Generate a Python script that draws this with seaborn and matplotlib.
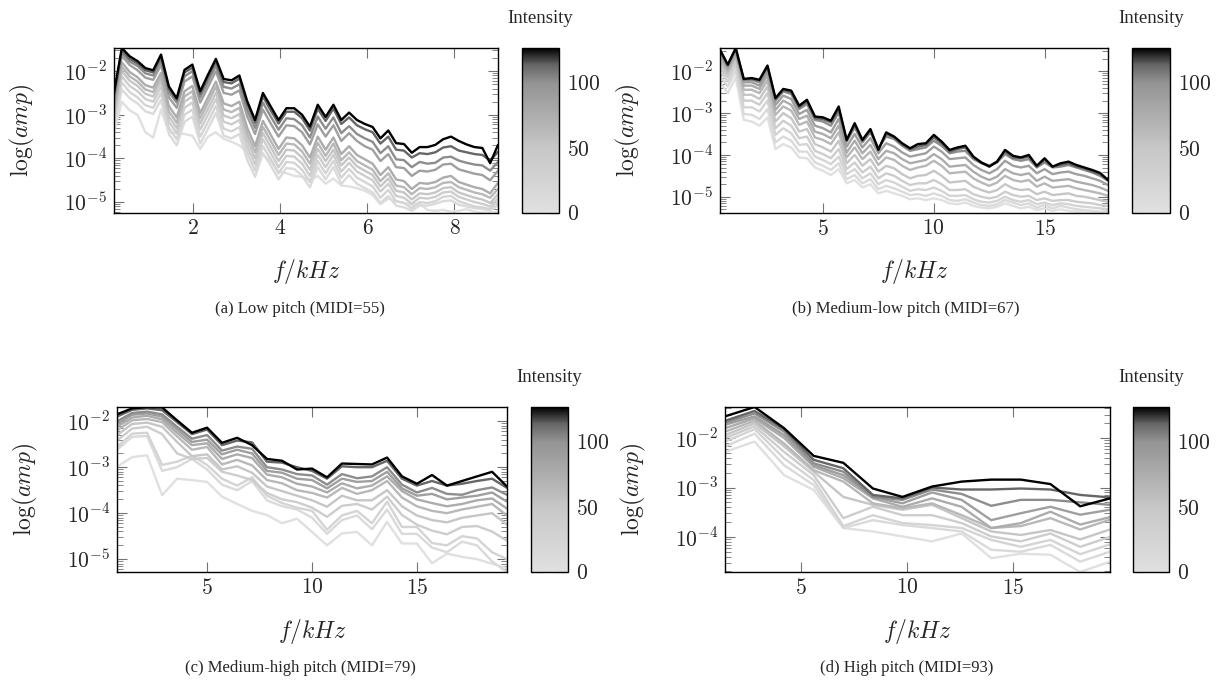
import numpy as np
import pandas as pd
import matplotlib
matplotlib.use("Agg")
import matplotlib.pyplot as plt
import seaborn as sns
from matplotlib.colors import LinearSegmentedColormap, Normalize
from matplotlib.cm import ScalarMappable
from matplotlib.ticker import FixedLocator, LogLocator, FuncFormatter, NullFormatter

# ---------------- data (log10 of amplitude) ----------------
intensities = [127, 114, 102, 89, 76, 64, 51, 38, 25, 13, 0]

freq_a = [0.18, 0.36, 0.54, 0.72, 0.90, 1.08, 1.26, 1.44, 1.62, 1.80, 1.98, 2.16, 2.34, 2.52, 2.70,
          2.88, 3.06, 3.24, 3.42, 3.60, 3.78, 3.96, 4.14, 4.32, 4.50, 4.68, 4.86, 5.04, 5.22, 5.40,
          5.58, 5.76, 5.94, 6.12, 6.30, 6.48, 6.66, 6.84, 7.02, 7.20, 7.38, 7.56, 7.74, 7.92, 8.10,
          8.28, 8.46, 8.64, 8.82, 9.00]
a_127 = [-2.49, -1.47, -1.66, -1.77, -1.93, -1.98, -1.62, -2.35, -2.62, -1.97,
         -1.85, -2.46, -2.08, -1.72, -2.18, -2.21, -2.10, -2.69, -3.12, -2.50,
         -2.81, -3.12, -2.85, -2.85, -3.00, -3.27, -2.77, -3.05, -2.77, -3.12,
         -2.95, -3.12, -3.21, -3.28, -3.54, -3.36, -3.65, -3.67, -3.87, -3.74,
         -3.74, -3.69, -3.56, -3.50, -3.60, -3.68, -3.74, -3.76, -4.11, -3.69]
a_114 = [-2.55, -1.52, -1.72, -1.82, -1.98, -2.03, -1.68, -2.40, -2.66, -2.03,
         -1.92, -2.52, -2.14, -1.78, -2.25, -2.28, -2.17, -2.76, -3.18, -2.58,
         -2.90, -3.20, -2.93, -2.93, -3.08, -3.36, -2.86, -3.14, -2.86, -3.21,
         -3.06, -3.24, -3.33, -3.40, -3.66, -3.50, -3.80, -3.82, -3.98, -3.88,
         -3.90, -3.86, -3.75, -3.72, -3.82, -3.86, -3.90, -3.92, -4.05, -3.85]
a_102 = [-2.62, -1.58, -1.78, -1.88, -2.05, -2.10, -1.76, -2.48, -2.72, -2.12,
         -2.00, -2.60, -2.24, -1.88, -2.36, -2.40, -2.30, -2.90, -3.30, -2.72,
         -3.04, -3.34, -3.08, -3.10, -3.24, -3.52, -3.04, -3.32, -3.06, -3.42,
         -3.26, -3.44, -3.54, -3.62, -3.88, -3.72, -4.02, -4.04, -4.20, -4.08,
         -4.12, -4.10, -3.98, -3.96, -4.05, -4.10, -4.14, -4.16, -4.28, -4.08]
a_89 = [-2.70, -1.65, -1.86, -1.98, -2.15, -2.20, -1.86, -2.60, -2.84, -2.24,
        -2.12, -2.72, -2.36, -2.00, -2.50, -2.54, -2.44, -3.04, -3.44, -2.88,
        -3.20, -3.50, -3.24, -3.26, -3.40, -3.68, -3.22, -3.50, -3.24, -3.60,
        -3.42, -3.60, -3.72, -3.80, -4.06, -3.90, -4.20, -4.22, -4.40, -4.28,
        -4.30, -4.26, -4.14, -4.12, -4.25, -4.30, -4.35, -4.38, -4.50, -4.28]
a_76 = [-2.82, -1.80, -2.02, -2.14, -2.32, -2.38, -2.04, -2.80, -3.06, -2.46,
        -2.34, -2.96, -2.60, -2.24, -2.74, -2.80, -2.70, -3.30, -3.72, -3.14,
        -3.46, -3.78, -3.52, -3.54, -3.70, -3.98, -3.50, -3.80, -3.52, -3.90,
        -3.72, -3.92, -4.02, -4.12, -4.38, -4.20, -4.48, -4.52, -4.70, -4.56,
        -4.58, -4.54, -4.44, -4.40, -4.54, -4.60, -4.66, -4.70, -4.80, -4.56]
a_64 = [-2.90, -1.90, -2.12, -2.24, -2.42, -2.48, -2.14, -2.92, -3.18, -2.58,
        -2.46, -3.08, -2.72, -2.36, -2.88, -2.94, -2.84, -3.44, -3.86, -3.28,
        -3.60, -3.92, -3.66, -3.68, -3.84, -4.12, -3.64, -3.94, -3.66, -4.04,
        -3.86, -4.06, -4.16, -4.26, -4.52, -4.34, -4.62, -4.66, -4.82, -4.68,
        -4.70, -4.66, -4.56, -4.54, -4.66, -4.72, -4.78, -4.82, -4.90, -4.70]
a_51 = [-2.98, -2.00, -2.22, -2.34, -2.52, -2.58, -2.24, -3.04, -3.30, -2.70,
        -2.58, -3.20, -2.86, -2.50, -3.02, -3.08, -2.98, -3.58, -4.00, -3.42,
        -3.74, -4.06, -3.80, -3.82, -3.98, -4.26, -3.78, -4.06, -3.80, -4.16,
        -3.98, -4.18, -4.28, -4.38, -4.64, -4.46, -4.74, -4.78, -4.94, -4.80,
        -4.82, -4.78, -4.68, -4.66, -4.78, -4.84, -4.90, -4.94, -5.02, -4.82]
a_38 = [-3.06, -2.12, -2.34, -2.46, -2.64, -2.70, -2.36, -3.16, -3.42, -2.84,
        -2.72, -3.34, -3.00, -2.64, -3.16, -3.22, -3.12, -3.72, -4.14, -3.56,
        -3.88, -4.20, -3.94, -3.96, -4.12, -4.40, -3.92, -4.20, -3.92, -4.30,
        -4.10, -4.30, -4.40, -4.50, -4.76, -4.58, -4.86, -4.90, -5.04, -4.90,
        -4.92, -4.88, -4.78, -4.76, -4.88, -4.94, -5.00, -5.04, -5.10, -4.92]
a_25 = [-3.16, -2.26, -2.48, -2.60, -2.78, -2.84, -2.50, -3.30, -3.56, -3.00,
        -2.88, -3.50, -3.16, -2.80, -3.32, -3.38, -3.28, -3.88, -4.28, -3.72,
        -4.02, -4.34, -4.08, -4.10, -4.26, -4.54, -4.06, -4.34, -4.06, -4.44,
        -4.24, -4.44, -4.54, -4.64, -4.90, -4.72, -4.98, -5.02, -5.14, -5.00,
        -5.02, -4.98, -4.88, -4.86, -4.98, -5.04, -5.10, -5.12, -5.16, -5.00]
a_13 = [-3.26, -2.42, -2.62, -2.74, -2.92, -2.98, -2.66, -3.44, -3.70, -3.16,
        -3.04, -3.66, -3.32, -2.96, -3.48, -3.54, -3.44, -4.04, -4.42, -3.88,
        -4.16, -4.48, -4.22, -4.24, -4.40, -4.66, -4.20, -4.48, -4.20, -4.58,
        -4.38, -4.58, -4.68, -4.78, -5.02, -4.86, -5.08, -5.12, -5.20, -5.08,
        -5.08, -5.04, -4.98, -4.96, -5.06, -5.10, -5.14, -5.16, -5.20, -5.08]
a_0 = [-3.40, -2.70, -2.90, -3.00, -3.40, -3.52, -2.88, -3.40, -3.42, -3.44,
       -3.48, -3.78, -3.50, -3.40, -3.55, -3.62, -3.70, -3.86, -3.98, -3.92,
       -4.06, -4.30, -4.34, -4.40, -4.42, -4.50, -4.40, -4.58, -4.46, -4.62,
       -4.64, -4.68, -4.74, -4.84, -5.05, -4.92, -4.98, -5.02, -5.06, -5.04,
       -5.18, -5.20, -5.18, -5.22, -5.20, -5.16, -5.22, -5.24, -5.25, -5.22]

freq_b = [0.36, 0.71, 1.07, 1.43, 1.79, 2.14, 2.50, 2.86, 3.21, 3.57, 3.93, 4.28, 4.64, 5.00, 5.36,
          5.71, 6.07, 6.43, 6.78, 7.14, 7.50, 7.85, 8.21, 8.57, 8.93, 9.28, 9.64, 10.00, 10.35, 10.71,
          11.07, 11.42, 11.78, 12.14, 12.50, 12.85, 13.21, 13.57, 13.92, 14.28, 14.64, 14.99, 15.35,
          15.71, 16.07, 16.42, 16.78, 17.14, 17.49, 17.85]
b_127 = [-1.48, -1.84, -1.44, -2.18, -2.16, -2.20, -1.86, -2.64, -2.42, -2.46,
         -2.82, -2.68, -3.08, -3.10, -3.18, -2.84, -3.64, -3.24, -3.64, -3.38,
         -3.88, -3.46, -3.56, -3.72, -3.84, -3.74, -3.72, -3.52, -3.68, -3.88,
         -3.82, -3.78, -4.04, -4.18, -4.28, -4.16, -3.88, -4.02, -4.06, -4.00,
         -4.26, -4.08, -4.28, -4.20, -4.16, -4.24, -4.30, -4.36, -4.43, -4.60]
b_114 = [-1.50, -1.85, -1.46, -2.19, -2.18, -2.22, -1.88, -2.66, -2.45, -2.50,
         -2.86, -2.72, -3.12, -3.14, -3.22, -2.90, -3.66, -3.28, -3.66, -3.42,
         -3.86, -3.50, -3.58, -3.75, -3.86, -3.80, -3.76, -3.58, -3.72, -3.92,
         -3.86, -3.82, -4.06, -4.18, -4.26, -4.16, -3.92, -4.06, -4.08, -4.04,
         -4.28, -4.12, -4.28, -4.24, -4.20, -4.28, -4.32, -4.40, -4.46, -4.60]
b_102 = [-1.52, -1.86, -1.48, -2.20, -2.20, -2.26, -1.92, -2.70, -2.48, -2.54,
         -2.90, -2.78, -3.16, -3.20, -3.30, -2.98, -3.68, -3.34, -3.70, -3.46,
         -3.84, -3.56, -3.62, -3.78, -3.90, -3.86, -3.82, -3.66, -3.78, -3.96,
         -3.92, -3.90, -4.10, -4.20, -4.26, -4.18, -3.98, -4.10, -4.14, -4.10,
         -4.30, -4.18, -4.30, -4.28, -4.24, -4.30, -4.36, -4.42, -4.50, -4.62]
b_89 = [-1.58, -1.90, -1.52, -2.26, -2.26, -2.34, -2.00, -2.80, -2.58, -2.66,
        -3.02, -2.92, -3.30, -3.36, -3.46, -3.14, -3.80, -3.50, -3.82, -3.60,
        -3.96, -3.72, -3.80, -3.94, -4.04, -4.00, -3.96, -3.80, -3.92, -4.10,
        -4.08, -4.06, -4.24, -4.36, -4.44, -4.34, -4.14, -4.26, -4.30, -4.26,
        -4.44, -4.34, -4.46, -4.42, -4.40, -4.46, -4.50, -4.56, -4.62, -4.72]
b_76 = [-1.64, -1.95, -1.57, -2.34, -2.34, -2.42, -2.10, -2.92, -2.70, -2.80,
        -3.14, -3.06, -3.44, -3.50, -3.60, -3.30, -3.94, -3.66, -3.96, -3.76,
        -4.10, -3.90, -3.96, -4.10, -4.20, -4.16, -4.12, -3.98, -4.10, -4.28,
        -4.26, -4.24, -4.40, -4.52, -4.60, -4.52, -4.34, -4.44, -4.48, -4.44,
        -4.62, -4.52, -4.62, -4.60, -4.58, -4.64, -4.68, -4.72, -4.78, -4.86]
b_64 = [-1.72, -2.00, -1.62, -2.44, -2.44, -2.52, -2.22, -3.04, -2.84, -2.94,
        -3.28, -3.20, -3.58, -3.64, -3.74, -3.46, -4.06, -3.82, -4.10, -3.92,
        -4.24, -4.06, -4.12, -4.26, -4.36, -4.30, -4.26, -4.14, -4.26, -4.44,
        -4.42, -4.40, -4.56, -4.66, -4.74, -4.66, -4.50, -4.60, -4.64, -4.60,
        -4.76, -4.68, -4.78, -4.76, -4.74, -4.80, -4.84, -4.88, -4.92, -4.98]
b_51 = [-1.80, -2.06, -1.68, -2.56, -2.56, -2.66, -2.36, -3.20, -3.00, -3.12,
        -3.44, -3.38, -3.74, -3.82, -3.92, -3.66, -4.20, -4.00, -4.26, -4.10,
        -4.40, -4.26, -4.32, -4.46, -4.56, -4.50, -4.48, -4.38, -4.50, -4.66,
        -4.64, -4.62, -4.76, -4.84, -4.90, -4.84, -4.70, -4.80, -4.84, -4.82,
        -4.94, -4.88, -4.96, -4.94, -4.92, -4.98, -5.00, -5.04, -5.08, -5.12]
b_38 = [-1.88, -2.14, -1.76, -2.70, -2.70, -2.80, -2.52, -3.36, -3.18, -3.30,
        -3.60, -3.56, -3.90, -3.98, -4.08, -3.86, -4.34, -4.18, -4.42, -4.28,
        -4.56, -4.44, -4.50, -4.62, -4.72, -4.68, -4.68, -4.60, -4.70, -4.84,
        -4.84, -4.82, -4.94, -5.00, -5.04, -5.00, -4.88, -4.96, -5.00, -4.98,
        -5.08, -5.04, -5.10, -5.08, -5.08, -5.12, -5.14, -5.16, -5.20, -5.22]
b_25 = [-1.98, -2.24, -1.86, -2.86, -2.86, -2.96, -2.70, -3.52, -3.36, -3.48,
        -3.76, -3.74, -4.04, -4.12, -4.22, -4.04, -4.46, -4.34, -4.56, -4.44,
        -4.70, -4.60, -4.66, -4.76, -4.86, -4.82, -4.84, -4.78, -4.86, -4.98,
        -4.98, -4.96, -5.06, -5.12, -5.14, -5.10, -5.00, -5.08, -5.12, -5.08,
        -5.18, -5.14, -5.20, -5.16, -5.18, -5.22, -5.24, -5.26, -5.28, -5.30]
b_13 = [-2.10, -2.36, -1.98, -3.02, -3.04, -3.14, -2.90, -3.70, -3.56, -3.66,
        -3.92, -3.92, -4.18, -4.26, -4.36, -4.20, -4.58, -4.48, -4.68, -4.58,
        -4.82, -4.74, -4.80, -4.88, -4.96, -4.94, -4.98, -4.92, -4.98, -5.08,
        -5.10, -5.06, -5.14, -5.20, -5.22, -5.18, -5.08, -5.14, -5.20, -5.16,
        -5.26, -5.20, -5.28, -5.22, -5.26, -5.30, -5.32, -5.34, -5.36, -5.34]
b_0 = [-2.26, -2.52, -2.14, -3.16, -3.20, -3.30, -3.10, -3.86, -3.74, -3.82,
       -4.06, -4.08, -4.30, -4.38, -4.48, -4.34, -4.68, -4.60, -4.78, -4.70,
       -4.92, -4.86, -4.92, -4.98, -5.06, -5.04, -5.08, -5.04, -5.08, -5.16,
       -5.18, -5.14, -5.22, -5.26, -5.28, -5.24, -5.16, -5.22, -5.28, -5.24,
       -5.32, -5.28, -5.34, -5.30, -5.34, -5.36, -5.38, -5.39, -5.38, -5.36]

freq_c = [0.71, 1.43, 2.14, 2.86, 3.57, 4.28, 5.00, 5.71, 6.43, 7.14, 7.85, 8.57, 9.28, 10.00,
          10.71, 11.42, 12.14, 12.85, 13.57, 14.28, 14.99, 15.71, 16.42, 17.14, 17.85, 18.57, 19.28]
c_127 = [-1.85, -1.72, -1.69, -1.70, -1.98, -2.25, -2.14, -2.47, -2.36, -2.52, -2.82, -2.86, -3.05, -3.03,
         -3.22, -2.92, -2.93, -2.94, -2.79, -3.20, -3.36, -3.17, -3.40, -3.30, -3.20, -3.10, -3.42]
c_114 = [-1.90, -1.75, -1.72, -1.76, -2.02, -2.28, -2.18, -2.52, -2.42, -2.46, -2.88, -2.90, -3.00, -3.08,
         -3.25, -2.98, -3.00, -3.00, -2.86, -3.25, -3.40, -3.30, -3.40, -3.36, -3.30, -3.25, -3.45]
c_102 = [-2.00, -1.82, -1.79, -1.85, -2.12, -2.38, -2.30, -2.64, -2.55, -2.60, -3.00, -3.05, -3.15, -3.18,
         -3.38, -3.15, -3.24, -3.20, -3.00, -3.38, -3.55, -3.45, -3.58, -3.60, -3.50, -3.44, -3.60]
c_89 = [-2.06, -1.86, -1.83, -1.90, -2.18, -2.45, -2.40, -2.72, -2.62, -2.70, -3.08, -3.12, -3.25, -3.28,
        -3.46, -3.25, -3.32, -3.30, -3.10, -3.46, -3.62, -3.58, -3.70, -3.66, -3.62, -3.55, -3.75]
c_76 = [-2.12, -1.92, -1.88, -1.96, -2.25, -2.52, -2.48, -2.82, -2.72, -2.80, -3.16, -3.22, -3.36, -3.42,
        -3.55, -3.35, -3.46, -3.40, -3.20, -3.52, -3.70, -3.78, -3.85, -3.80, -3.72, -3.68, -3.90]
c_64 = [-2.20, -1.98, -1.95, -2.02, -2.33, -2.62, -2.56, -2.94, -2.84, -2.96, -3.28, -3.35, -3.50, -3.56,
        -3.66, -3.45, -3.58, -3.50, -3.30, -3.66, -3.85, -3.95, -4.00, -3.92, -3.86, -3.80, -4.05]
c_51 = [-2.30, -2.06, -2.03, -2.12, -2.45, -2.76, -2.72, -3.05, -2.98, -3.12, -3.42, -3.52, -3.62, -3.72,
        -3.86, -3.62, -3.72, -3.72, -3.50, -3.85, -4.05, -4.15, -4.20, -4.10, -4.05, -4.00, -4.25]
c_38 = [-2.42, -2.16, -2.12, -2.28, -2.70, -2.82, -2.80, -3.10, -3.18, -3.28, -3.56, -3.70, -3.76, -3.88,
        -4.08, -3.84, -3.80, -3.92, -3.64, -4.04, -4.25, -4.38, -4.46, -4.30, -4.28, -4.40, -4.60]
c_25 = [-2.56, -2.27, -2.25, -2.95, -2.88, -2.75, -2.95, -3.25, -3.40, -3.22, -3.62, -3.78, -3.88, -3.95,
        -4.36, -4.05, -3.95, -4.22, -3.75, -4.30, -4.30, -4.65, -4.70, -4.50, -4.55, -4.85, -5.00]
c_13 = [-2.62, -2.34, -2.32, -3.08, -3.00, -2.82, -3.05, -3.38, -3.50, -3.30, -3.72, -3.85, -3.92, -4.10,
        -4.45, -4.15, -4.05, -4.35, -3.92, -4.45, -4.45, -4.75, -4.85, -4.62, -4.70, -5.05, -5.28]
c_0 = [-2.99, -2.78, -2.74, -3.61, -3.25, -3.28, -3.32, -3.64, -3.80, -3.95, -4.04, -4.22, -4.12, -4.41,
       -4.70, -4.44, -4.41, -4.70, -4.19, -4.66, -4.66, -5.09, -4.88, -4.95, -5.00, -5.10, -5.20]

freq_d = [1.45, 2.84, 4.23, 5.62, 7.01, 8.40, 9.79, 11.18, 12.57, 13.96, 15.35, 16.74, 18.14, 19.54]
d_127 = [-1.56, -1.37, -1.80, -2.36, -2.50, -3.02, -3.19, -2.98, -2.88, -2.84, -2.84, -2.93, -3.38, -3.22]
d_114 = [-1.65, -1.45, -1.82, -2.44, -2.61, -3.15, -3.22, -3.00, -3.04, -3.04, -3.02, -3.04, -3.15, -3.20]
d_102 = [-1.69, -1.50, -1.87, -2.51, -2.68, -3.19, -3.25, -3.04, -3.13, -3.37, -3.25, -3.25, -3.30, -3.35]
d_89 = [-1.73, -1.56, -1.94, -2.55, -2.75, -3.19, -3.32, -3.10, -3.25, -3.66, -3.52, -3.39, -3.55, -3.45]
d_76 = [-1.80, -1.60, -2.00, -2.58, -2.81, -3.22, -3.39, -3.22, -3.39, -3.82, -3.72, -3.49, -3.75, -3.60]
d_64 = [-1.87, -1.65, -2.11, -2.65, -2.88, -3.32, -3.42, -3.32, -3.56, -3.82, -3.78, -3.62, -3.85, -3.65]
d_51 = [-1.94, -1.70, -2.17, -2.68, -3.19, -3.35, -3.45, -3.35, -3.62, -3.89, -3.96, -3.86, -4.05, -3.85]
d_38 = [-2.00, -1.76, -2.28, -2.75, -3.62, -3.39, -3.56, -3.56, -3.72, -3.99, -4.09, -3.93, -4.20, -4.00]
d_25 = [-2.07, -1.82, -2.41, -2.85, -3.78, -3.56, -3.72, -3.76, -3.82, -4.06, -4.20, -4.06, -4.35, -4.15]
d_13 = [-2.17, -1.91, -2.55, -2.95, -3.82, -3.66, -3.76, -3.82, -3.89, -4.26, -4.30, -4.16, -4.50, -4.30]
d_0 = [-2.28, -2.07, -2.75, -3.05, -3.82, -3.89, -3.99, -4.09, -3.93, -4.43, -4.34, -4.36, -4.71, -4.50]

xticks_a = [2, 4, 6, 8]
xticks_bcd = [5, 10, 15]
cbar_ticks = [0, 50, 100]
captions = ["(a) Low pitch (MIDI=55)", "(b) Medium-low pitch (MIDI=67)",
            "(c) Medium-high pitch (MIDI=79)", "(d) High pitch (MIDI=93)"]

# ---------------- style ----------------
sns.set_theme(style="white")
plt.rcParams["font.family"] = ["Liberation Serif", "DejaVu Serif"]
plt.rcParams["mathtext.fontset"] = "cm"
plt.rcParams["axes.linewidth"] = 1.0

cmap = LinearSegmentedColormap.from_list(
    "intensity",
    [(0.0, (0.88, 0.88, 0.88)), (50 / 127, (0.78, 0.78, 0.78)), (100 / 127, (0.58, 0.58, 0.58)),
     (114 / 127, (0.40, 0.40, 0.40)), (1.0, (0.0, 0.0, 0.0))])
norm = Normalize(0, 127)

W, H = 1217, 688
fig = plt.figure(figsize=(W / 100, H / 100), dpi=100)


def box(l, t, r, b):
    return [l / W, 1 - b / H, (r - l) / W, (b - t) / H]


panels = [
    dict(f=freq_a, lines=[a_127, a_114, a_102, a_89, a_76, a_64, a_51, a_38, a_25, a_13, a_0],
         ax=(114, 48, 498, 213), cb=(522, 48, 559, 213), xt=xticks_a, cap=(300, 309)),
    dict(f=freq_b, lines=[b_127, b_114, b_102, b_89, b_76, b_64, b_51, b_38, b_25, b_13, b_0],
         ax=(720, 48, 1108, 213), cb=(1132, 48, 1170, 213), xt=xticks_bcd, cap=(906, 309)),
    dict(f=freq_c, lines=[c_127, c_114, c_102, c_89, c_76, c_64, c_51, c_38, c_25, c_13, c_0],
         ax=(117, 407, 507, 572), cb=(531, 407, 568, 572), xt=xticks_bcd, cap=(300, 668)),
    dict(f=freq_d, lines=[d_127, d_114, d_102, d_89, d_76, d_64, d_51, d_38, d_25, d_13, d_0],
         ax=(725, 407, 1110, 572), cb=(1133, 407, 1169, 572), xt=xticks_bcd, cap=(907, 668)),
]

tick_fs = 15.5
label_fs = 17

for p, cap in zip(panels, captions):
    rows = []
    for inten, vals in zip(intensities, p["lines"]):
        for f, v in zip(p["f"], vals):
            rows.append({"f": f, "amp": 10 ** v, "intensity": inten})
    df = pd.DataFrame(rows)

    ax = fig.add_axes(box(*p["ax"]))
    sns.lineplot(data=df, x="f", y="amp", hue="intensity", palette=cmap, hue_norm=norm,
                 estimator=None, sort=False, legend=False, linewidth=1.7, ax=ax)
    ax.set_yscale("log")
    ax.set_xlim(min(p["f"]), max(p["f"]))
    ax.set_ylim(df["amp"].min(), df["amp"].max())

    ax.xaxis.set_major_locator(FixedLocator(p["xt"]))
    ax.xaxis.set_major_formatter(FuncFormatter(lambda v, pos: r"$%d$" % round(v)))
    ax.yaxis.set_major_locator(LogLocator(base=10, numticks=12))
    ax.yaxis.set_major_formatter(FuncFormatter(lambda v, pos: r"$10^{%d}$" % round(np.log10(v))))
    ax.yaxis.set_minor_locator(LogLocator(base=10, subs=np.arange(2, 10), numticks=100))
    ax.yaxis.set_minor_formatter(NullFormatter())
    ax.tick_params(which="both", direction="in", top=True, right=True, bottom=True, left=True,
                   color="0.45", labelsize=tick_fs, pad=5)
    ax.tick_params(which="major", length=7, width=0.8)
    ax.tick_params(which="minor", length=4, width=0.6)
    for s in ax.spines.values():
        s.set_color("black")
        s.set_linewidth(1.0)
        s.set_visible(True)

    ax.set_xlabel(r"$f/kHz$", fontsize=label_fs, va="center")
    ax.set_ylabel(r"$\log(amp)$", fontsize=label_fs, va="center")
    axw = p["ax"][2] - p["ax"][0]
    axh = p["ax"][3] - p["ax"][1]
    ax.xaxis.set_label_coords(0.5, -59 / axh)
    ax.yaxis.set_label_coords(-92 / axw, 0.5)

    cax = fig.add_axes(box(*p["cb"]))
    cb = fig.colorbar(ScalarMappable(norm=norm, cmap=cmap), cax=cax)
    cb.set_ticks(cbar_ticks)
    cb.ax.yaxis.set_major_formatter(FuncFormatter(lambda v, pos: r"$%d$" % round(v)))
    cb.outline.set_edgecolor("black")
    cb.outline.set_linewidth(1.0)
    cax.tick_params(axis="y", which="both", direction="in", left=True, right=True,
                    labelleft=False, labelright=True, color="0.45", length=9, width=0.8,
                    labelsize=tick_fs, pad=6)
    cax.minorticks_off()
    cax.set_title("Intensity", fontsize=13.5, pad=18)

    fig.text(p["cap"][0] / W, 1 - p["cap"][1] / H, cap, ha="center", va="center", fontsize=12)

fig.savefig("out.png", dpi=100)
